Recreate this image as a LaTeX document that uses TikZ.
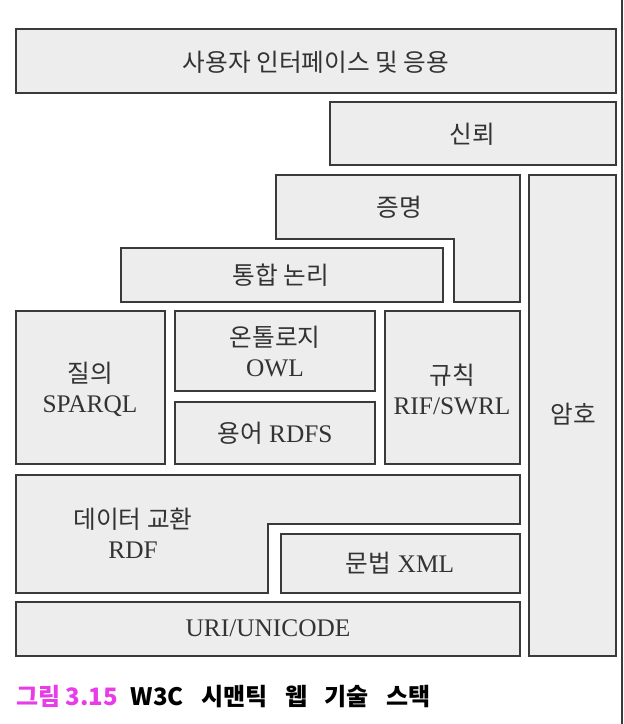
\documentclass[tikz,border=0pt]{standalone}
\usepackage{fontspec}
\setmainfont{Liberation Serif}
\newfontfamily\kr{Noto Sans CJK KR}
\definecolor{boxfill}{HTML}{EDEDED}
\definecolor{boxline}{HTML}{3A3A3A}
\definecolor{capmag}{HTML}{E83CE8}
\newcommand\K[1]{{\kr\fontsize{18.5}{22.5}\selectfont #1}}
\begin{document}
\begin{tikzpicture}[x=0.75pt,y=-0.75pt,
  layer/.style={draw=boxline, fill=boxfill, line width=1.4pt},
  lbl/.style={font=\fontsize{19}{22.5}\selectfont, align=center, inner sep=0pt, text=black!80}]
\useasboundingbox (0,0) rectangle (624,724);
% right edge line
\draw[line width=1.5pt, boxline] (622,0) -- (622,724);
% layers
\draw[layer] (16,29) rectangle (616,93);
\draw[layer] (330,102) rectangle (616,165);
\draw[layer] (276,175) -- (520,175) -- (520,302) -- (454,302) -- (454,239) -- (276,239) -- cycle;
\draw[layer] (529,175) rectangle (616,656);
\draw[layer] (121,248) rectangle (443,302);
\draw[layer] (16,311) rectangle (165,464);
\draw[layer] (175,311) rectangle (375,391);
\draw[layer] (175,402) rectangle (375,464);
\draw[layer] (385,311) rectangle (520,464);
\draw[layer] (16,475) -- (520,475) -- (520,524) -- (268,524) -- (268,593) -- (16,593) -- cycle;
\draw[layer] (281,534) rectangle (520,593);
\draw[layer] (16,602) rectangle (520,656);
% labels
\node[lbl] (ui) at (316,62) {\K{사용자 인터페이스 및 응용}};
\node[lbl] (trust) at (472,134) {\K{신뢰}};
\node[lbl] (proof) at (399,207) {\K{증명}};
\node[lbl] (crypto) at (573,414) {\K{암호}};
\node[lbl] (logic) at (281,275) {\K{통합 논리}};
\node[lbl] (query) at (90,389) {\K{질의}\\SPARQL};
\node[lbl] (owl) at (275,351) {\K{온톨로지}\\OWL};
\node[lbl] (rdfs) at (275,433) {\K{용어} RDFS};
\node[lbl] (rule) at (452,389) {\K{규칙}\\RIF/SWRL};
\node[lbl] (rdf) at (133,533) {\K{데이터 교환}\\RDF};
\node[lbl] (xml) at (400,563) {\K{문법} XML};
\node[lbl] (uri) at (268,628) {URI/UNICODE};
% caption
\node[anchor=west, inner sep=0pt, font=\kr\bfseries\fontsize{18}{20}\selectfont] (cap) at (16,697)
  {\textcolor{capmag}{그림 3.15}\hspace{0.3em} W3C\hspace{0.5em} 시맨틱\hspace{0.5em} 웹\hspace{0.5em} 기술\hspace{0.5em} 스택};
\end{tikzpicture}
\end{document}
